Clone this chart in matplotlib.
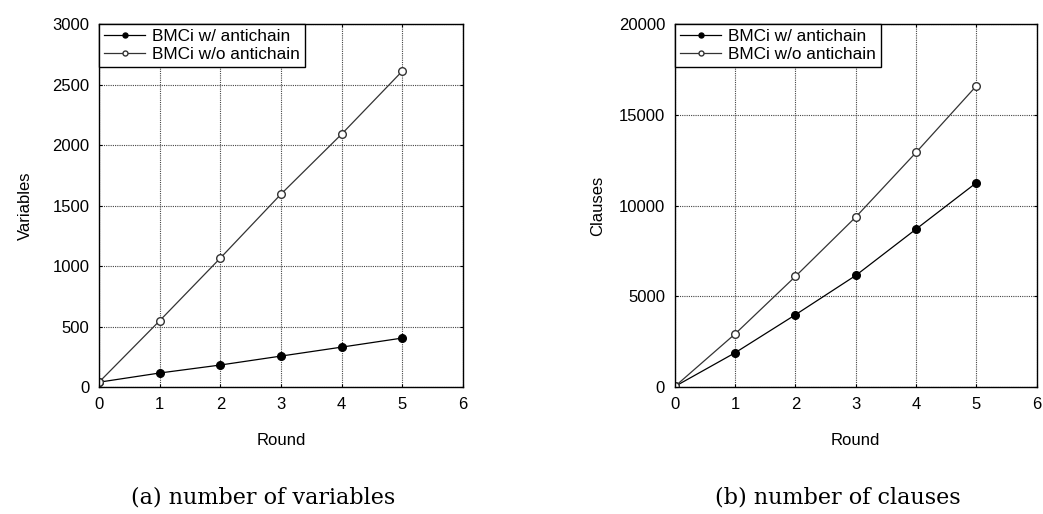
import matplotlib
matplotlib.use("Agg")
import matplotlib.pyplot as plt

rounds = [0, 1, 2, 3, 4, 5]
vars_with = [40, 116, 182, 256, 330, 405]
vars_without = [40, 548, 1066, 1595, 2091, 2612]
clauses_with = [30, 1890, 3985, 6150, 8705, 11260]
clauses_without = [30, 2930, 6100, 9370, 12930, 16600]
label_with = "BMCi w/ antichain"
label_without = "BMCi w/o antichain"
captions = ["(a) number of variables", "(b) number of clauses"]

plt.rcParams['font.family'] = ['Liberation Sans', 'DejaVu Sans']

fig = plt.figure(figsize=(10.43, 5.14), dpi=100)
ax1 = fig.add_axes([0.0949, 0.247, 0.349, 0.706])
ax2 = fig.add_axes([0.647, 0.247, 0.347, 0.706])

def style(ax, ylim, yticks, ylabel, ylabelpad):
    ax.set_xlim(0, 6)
    ax.set_ylim(*ylim)
    ax.set_xticks(range(7))
    ax.set_yticks(yticks)
    ax.grid(True, linestyle=(0, (1, 1)), color='#444444', linewidth=0.8)
    ax.tick_params(direction='in', labelsize=12, length=2, pad=7, top=True, right=True)
    ax.set_xlabel("Round", fontsize=12, labelpad=15)
    ax.set_ylabel(ylabel, fontsize=12, labelpad=ylabelpad)
    for s in ax.spines.values():
        s.set_linewidth(1.0)
    leg = ax.legend(loc='upper left', fontsize=12.4, fancybox=False, framealpha=1,
                    edgecolor='black', borderaxespad=0.0, handlelength=2.4,
                    borderpad=0.3, labelspacing=0.15, handletextpad=0.4,
                    markerscale=0.65)
    leg.get_frame().set_linewidth(1.0)

for ax, yw, ywo in [(ax1, vars_with, vars_without), (ax2, clauses_with, clauses_without)]:
    ax.plot(rounds, yw, color='black', linewidth=0.9, marker='o', markersize=5.5,
            markerfacecolor='black', markeredgecolor='black', label=label_with)
    ax.plot(rounds, ywo, color='#333333', linewidth=0.9, marker='o', markersize=5.5,
            markerfacecolor='white', markeredgecolor='#333333', label=label_without)

style(ax1, (0, 3000), range(0, 3001, 500), "Variables", 14)
style(ax2, (0, 20000), range(0, 20001, 5000), "Clauses", 10)

fig.text(0.252, 0.033, captions[0], ha='center', va='center', fontsize=16,
         family=['DejaVu Serif'])
fig.text(0.803, 0.033, captions[1], ha='center', va='center', fontsize=16,
         family=['DejaVu Serif'])

fig.savefig("out.png", dpi=100)
